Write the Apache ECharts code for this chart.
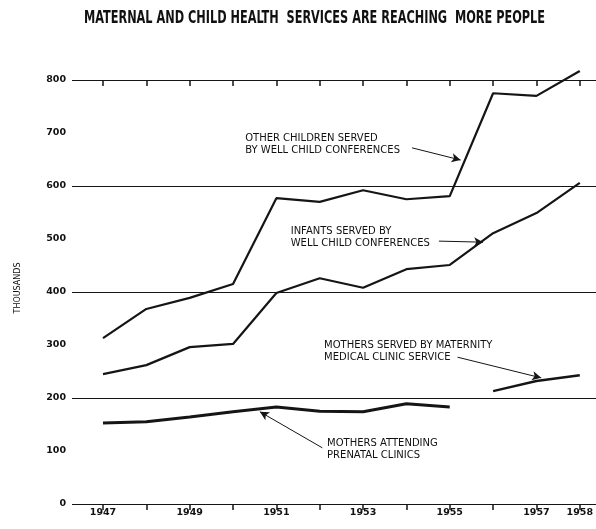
<!DOCTYPE html>
<html><head><meta charset="utf-8">
<script src="https://cdn.jsdelivr.net/npm/echarts@6/dist/echarts.min.js"></script>
<style>html,body{margin:0;padding:0;background:#fff}#c{width:596px;height:529px}</style>
</head><body><div id="c"></div>
<script>
var years = [1947,1948,1949,1950,1951,1952,1953,1954,1955,1956,1957,1958];
var otherChildren = [313,368,389,415,577,570,592,575,581,775,770,817];
var infants = [245,262,296,302,398,426,408,443,451,511,549,606];
var maternityMedical = [null,null,null,null,null,null,null,null,null,213,232,243];
var prenatal = [153,155,164,174,183,175,174,189,183,null,null,null];
var yTicks = [0,100,200,300,400,500,600,700,800];
var xLabelYears = [1947,1949,1951,1953,1955,1957,1958];
var titleText = 'MATERNAL AND CHILD HEALTH  SERVICES ARE REACHING  MORE PEOPLE';

// annotations: text, anchor (year, value) of text block left-middle, arrow from -> to
var notes = [
  {text:'OTHER CHILDREN SERVED\nBY WELL CHILD CONFERENCES', at:[1950.28,679], from:[1954.13,672], to:[1955.25,649]},
  {text:'INFANTS SERVED BY\nWELL CHILD CONFERENCES', at:[1951.33,503], from:[1954.75,496], to:[1955.77,494]},
  {text:'MOTHERS SERVED BY MATERNITY\nMEDICAL CLINIC SERVICE', at:[1952.10,288], from:[1955.18,277], to:[1957.11,238]},
  {text:'MOTHERS ATTENDING\nPRENATAL CLINICS', at:[1952.17,103], from:[1952.06,106], to:[1950.62,174]}
];

function pairs(vals){ return years.map(function(y,i){ return [y, vals[i]]; }); }

var chart = echarts.init(document.getElementById('c'));
var ink = '#151515';
var lineSeries = function(name, vals, w){
  return {name:name, type:'line', xAxisIndex:1, yAxisIndex:2, data:pairs(vals), symbol:'none',
    clip:false, connectNulls:false, lineStyle:{color:ink, width:w}, itemStyle:{color:ink}, silent:true, animation:false};
};
var series = [
  lineSeries('Other children', otherChildren, 2.2),
  lineSeries('Infants', infants, 2.2),
  lineSeries('Maternity medical', maternityMedical, 2.4),
  lineSeries('Prenatal', prenatal, 3),
  {type:'line', xAxisIndex:1, yAxisIndex:2, data:[], animation:false,
   markLine:{silent:true, symbol:['none','arrow'], symbolSize:[7,9], label:{show:false},
     lineStyle:{color:ink, width:1, type:'solid'},
     data: notes.map(function(n){ return [{coord:n.from},{coord:n.to}]; })}}
];

chart.setOption({
  animation:false,
  grid:[
    {left:72, right:0, top:80, bottom:25},
    {left:103, right:10, top:80, bottom:25}
  ],
  xAxis:[
    {gridIndex:0, type:'value', min:0, max:1, show:false},
    {gridIndex:1, type:'value', min:1947, max:1958, interval:1,
      axisLine:{show:true, lineStyle:{color:ink, width:1.2}},
      axisTick:{show:true, inside:false, length:6, lineStyle:{color:ink, width:1.5}},
      splitLine:{show:false},
      axisLabel:{margin:4, color:'#111', fontFamily:'DejaVu Sans', fontWeight:'bold', fontSize:9.5,
        formatter:function(v){ return xLabelYears.indexOf(v)>=0 ? String(v) : ''; }}},
    {gridIndex:1, type:'value', min:1947, max:1958, interval:1,
      axisLine:{show:false}, axisLabel:{show:false}, splitLine:{show:false},
      axisTick:{show:true, inside:true, length:6, lineStyle:{color:ink, width:1.5}}}
  ],
  yAxis:[
    {gridIndex:0, type:'value', min:0, max:800, interval:100,
      axisLine:{show:false}, axisTick:{show:false}, splitLine:{show:false},
      axisLabel:{margin:6, color:'#111', fontFamily:'DejaVu Sans', fontWeight:'bold', fontSize:9.5,
        formatter:function(v){ return yTicks.indexOf(v)>=0 ? String(v) : ''; }},
      name:'THOUSANDS', nameLocation:'middle', nameRotate:90, nameGap:50,
      nameTextStyle:{fontFamily:'DejaVu Sans', fontSize:8, color:'#111', padding:[0,0,0,8]}},
    {gridIndex:0, type:'value', min:0, max:800, interval:200,
      axisLine:{show:false}, axisTick:{show:false}, axisLabel:{show:false},
      splitLine:{show:true, lineStyle:{color:ink, width:1}}},
    {gridIndex:1, type:'value', min:0, max:800, show:false}
  ],
  series:series
});

// title: condensed look via horizontal scale to fit the original span
var titleFont = 'bold 17px "DejaVu Sans Condensed", "DejaVu Sans"';
var ctx = document.createElement('canvas').getContext('2d');
ctx.font = titleFont;
var tw = ctx.measureText(titleText).width;
var titleLeft = 84, titleWidth = 461;

var texts = notes.map(function(n){
  var p = chart.convertToPixel({xAxisIndex:1, yAxisIndex:2}, n.at);
  return {type:'text', x:p[0], y:p[1], silent:true,
    style:{text:n.text, fill:'#111', font:'10px "DejaVu Sans"', textVerticalAlign:'middle', textAlign:'left', lineHeight:12}};
});
texts.push({type:'text', x:titleLeft, y:19, scaleX:titleWidth/tw, scaleY:1, originX:0, originY:0, silent:true,
  style:{text:titleText, fill:'#111', font:titleFont, textVerticalAlign:'middle', textAlign:'left'}});
chart.setOption({graphic:texts});
</script>
</body></html>
